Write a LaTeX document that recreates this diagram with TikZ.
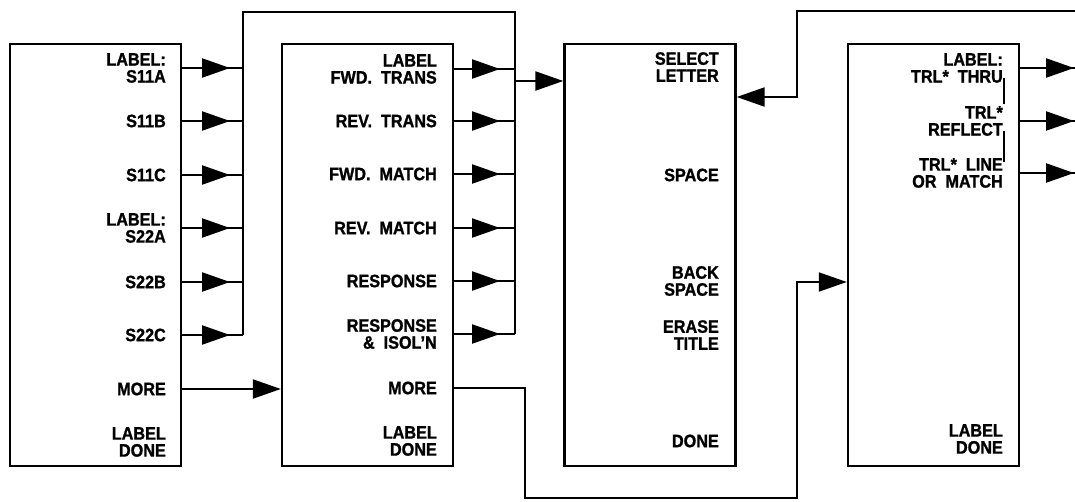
\documentclass[tikz,border=0pt]{standalone}
\usepackage{fontspec}
\setmainfont{Liberation Sans}[FakeStretch=0.9,FakeBold=1.2]
\usetikzlibrary{arrows.meta,decorations.markings}
\begin{document}
\begin{tikzpicture}[x=1pt,y=-1pt,
  box/.style={draw,line width=2.4pt,inner sep=0pt,minimum width=171pt,minimum height=422pt},
  lab/.style={anchor=east,align=right,inner sep=0pt,font=\fontsize{18}{17}\selectfont\bfseries},
  wire/.style={line width=2.3pt},
  thinwire/.style={line width=1.8pt},
  endtip/.style={-{Triangle[length=28pt,width=19pt]}},
  midtip/.style={postaction={decorate},decoration={markings,mark=at position #1 with {\arrow{Triangle[length=28pt,width=19pt]}}}}
]
\useasboundingbox (0,0) rectangle (1075,501);

% boxes
\node[box] (b1) at (95.5,255) {};
\node[box] (b2) at (367.5,255) {};
\node[box] (b3) at (650,255) {};
\node[box] (b4) at (933.5,255) {};

% box 1 labels
\node[lab] (s11a) at (166,68) {LABEL:\\S11A};
\node[lab] (s11b) at (166,121) {S11B};
\node[lab] (s11c) at (166,175) {S11C};
\node[lab] (s22a) at (166,228) {LABEL:\\S22A};
\node[lab] (s22b) at (166,282) {S22B};
\node[lab] (s22c) at (166,335) {S22C};
\node[lab] (more1) at (166,389) {MORE};
\node[lab] (done1) at (166,442) {LABEL\\DONE};

% box 2 labels
\node[lab] (ft) at (437,69) {LABEL\\FWD.\ \ TRANS};
\node[lab] (rt) at (437,121) {REV.\ \ TRANS};
\node[lab] (fm) at (437,174) {FWD.\ \ MATCH};
\node[lab] (rm) at (437,228) {REV.\ \ MATCH};
\node[lab] (rs) at (437,281) {RESPONSE};
\node[lab] (ri) at (437,334) {RESPONSE\\\&\ \ ISOL'N};
\node[lab] (more2) at (437,388) {MORE};
\node[lab] (done2) at (437,441) {LABEL\\DONE};

% box 3 labels
\node[lab] (sel) at (719,67) {SELECT\\LETTER};
\node[lab] (spc) at (719,175) {SPACE};
\node[lab] (bsp) at (719,281) {BACK\\SPACE};
\node[lab] (ers) at (719,335) {ERASE\\TITLE};
\node[lab] (done3) at (719,441) {DONE};

% box 4 labels
\node[lab] (thru) at (1003,68) {LABEL:\\TRL*\ \ THRU};
\node[lab] (refl) at (1003,121) {TRL*\\REFLECT};
\node[lab] (line) at (1003,173) {TRL*\ \ LINE\\OR\ \ MATCH};
\node[lab] (done4) at (1003,439) {LABEL\\DONE};
\draw[line width=1.5pt] (1004,78) -- (1004,104);
\draw[line width=1.5pt] (1004,131) -- (1004,162);

% coordinates
\coordinate (bus1) at (243,12);
\coordinate (bus2) at (515,12);
\coordinate (j3) at (515,81);
\coordinate (edge) at (1075,11);
\coordinate (j1) at (797,11);
\coordinate (j2) at (797,97);
\coordinate (m1) at (525,388);
\coordinate (m2) at (525,498);
\coordinate (m3) at (797,498);
\coordinate (m4) at (797,282);
\coordinate (rx) at (1075,0);

% box 1 to bus 1
\foreach \n in {s11a,s11b,s11c,s22a,s22b,s22c}
  \draw[wire,midtip=-13pt] (b1.east |- \n.east) -- (bus1 |- \n.east);
% box 2 to bus 2
\foreach \n in {ft,rt,fm,rm,rs,ri}
  \draw[wire,midtip=-15pt] (b2.east |- \n.east) -- (bus2 |- \n.east);
% buses
\draw[wire] (bus1 |- s22c.east) -- (bus1) -- (bus2) -- (bus2 |- ri.east);
\draw[wire,endtip] (j3) -- (b3.west |- j3);
% MORE connections
\draw[wire,endtip] (b1.east |- more1.east) -- (b2.west |- more1.east);
\draw[thinwire,endtip] (b2.east |- m1) -- (m1) -- (m2) -- (m3) -- (m4) -- (b4.west |- m4);
% return to select letter
\draw[wire,endtip] (edge) -- (j1) -- (j2) -- (b3.east |- j2);
% box 4 outputs
\foreach \n in {thru,refl,line}
  \draw[wire,midtip=-1pt] (b4.east |- \n.east) -- (rx |- \n.east);
\end{tikzpicture}
\end{document}
